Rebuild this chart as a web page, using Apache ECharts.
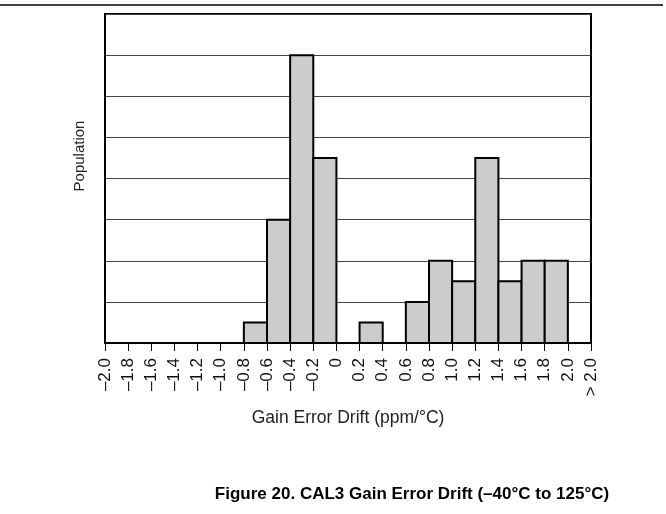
<!DOCTYPE html>
<html>
<head>
<meta charset="utf-8">
<script src="https://cdn.jsdelivr.net/npm/echarts@6/dist/echarts.min.js"></script>
<style>
html,body{margin:0;padding:0;background:#fff;}
#c{width:666px;height:514px;}
</style>
</head>
<body>
<div id="c"></div>
<script>
// Bin start values (ppm/°C), each bin is 0.2 wide
var binStarts = [-2.0,-1.8,-1.6,-1.4,-1.2,-1.0,-0.8,-0.6,-0.4,-0.2,0.0,0.2,0.4,0.6,0.8,1.0,1.2,1.4,1.6,1.8,2.0];
// Population per bin
var counts    = [0,0,0,0,0,0,1,6,14,9,0,1,0,2,4,3,9,3,4,4,0];
// Tick labels at bin edges
var tickLabels = ['–2.0','–1.8','–1.6','–1.4','–1.2','–1.0','–0.8','–0.6','–0.4','–0.2','0','0.2','0.4','0.6','0.8','1.0','1.2','1.4','1.6','1.8','2.0','> 2.0'];
var binWidth = 0.2;
var xMin = -2.0, xMax = 2.2;

var data = binStarts.map(function(s, i){ return [s, counts[i]]; });

var chart = echarts.init(document.getElementById('c'), null, {renderer:'canvas'});
var FONT = 'Liberation Sans, Arial, sans-serif';
chart.setOption({
  animation:false,
  backgroundColor:'#fff',
  grid:{left:105, right:75, top:14, bottom:171, show:true, borderColor:'#000', borderWidth:2, backgroundColor:'transparent'},
  xAxis:{
    type:'value', min:xMin, max:xMax, interval:binWidth,
    axisLine:{show:true, onZero:false, lineStyle:{color:'#000', width:2}},
    axisTick:{show:true, length:8, inside:false, lineStyle:{color:'#000', width:1}},
    splitLine:{show:false},
    axisLabel:{
      rotate:90, margin:15, fontSize:17, color:'#111', fontFamily:FONT,
      showMinLabel:true, showMaxLabel:true,
      formatter:function(v){ var k=Math.round((v-xMin)/binWidth); return tickLabels[k]; }
    },
    name:'Gain Error Drift (ppm/°C)', nameLocation:'middle', nameGap:66,
    nameTextStyle:{fontSize:17.5, color:'#222', fontFamily:FONT}
  },
  yAxis:{
    type:'value', min:0, max:16, interval:2,
    axisLine:{show:true, onZero:false, lineStyle:{color:'#000', width:2}},
    axisTick:{show:false}, axisLabel:{show:false},
    splitLine:{show:true, lineStyle:{color:'#444', width:1}}
  },
  series:[{
    type:'custom',
    data:data,
    encode:{x:0, y:1},
    renderItem:function(params, api){
      var s = api.value(0), v = api.value(1);
      if (!v) return null;
      var p0 = api.coord([s, v]);
      var p1 = api.coord([s + binWidth, 0]);
      return {type:'rect', shape:{x:p0[0], y:p0[1], width:p1[0]-p0[0], height:p1[1]-p0[1]},
        style:{fill:'#cccccc', stroke:'#000', lineWidth:2}};
    },
    z:3
  }],
  graphic:[
    {type:'line', shape:{x1:0, y1:5, x2:663, y2:5}, style:{stroke:'#000', lineWidth:1.5}},
    {type:'text', x:80, y:156, rotation:Math.PI/2, style:{text:'Population', font:'15px Liberation Sans, Arial, sans-serif', fill:'#222', align:'center', verticalAlign:'middle'}},
    {type:'text', x:412, y:494, style:{text:'Figure 20. CAL3 Gain Error Drift (–40°C to 125°C)', font:'bold 17px Liberation Sans, Arial, sans-serif', fill:'#000', align:'center', verticalAlign:'middle'}}
  ]
});
</script>
</body>
</html>
